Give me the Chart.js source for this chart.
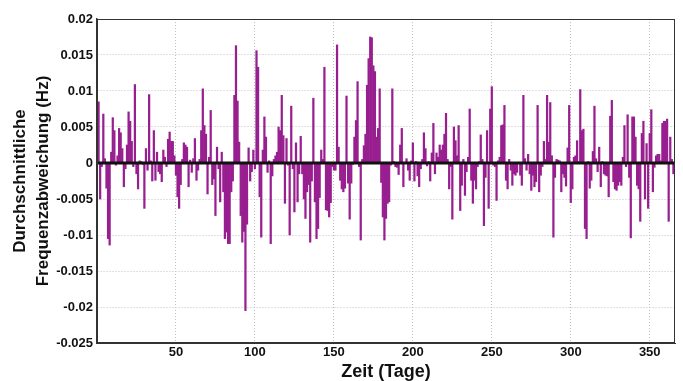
<!DOCTYPE html>
<html>
<head>
<meta charset="utf-8">
<script src="https://cdn.jsdelivr.net/npm/chart.js@4"></script>
<style>
  body { margin: 0; background: #fff; }
  #wrap { width: 683px; height: 381px; }
</style>
</head>
<body>
<div id="wrap"><canvas id="myChart" width="683" height="381"></canvas></div>
<script>
// days of the year (categories)
const days = Array.from({ length: 365 }, (_, i) => i + 1);

// mean frequency deviation per day in Hz
const deviation = [
  0.0085, -0.005, -0.0005, 0.0068, 0.0006, -0.0035, -0.0105, -0.0114, 0.0015, 0.0063,
  0.0045, -0.0003, 0.001, 0.0048, 0.0042, 0.002, -0.0033, -0.0008, 0.0025, 0.0071,
  0.0058, 0.003, -0.0005, 0.0109, -0.0015, -0.0036, 0.0003, 0.0002, -0.0002, -0.0063,
  0.002, -0.001, 0.0095, 0.0003, -0.0025, 0.0045, -0.0024, 0.0015, -0.0012, -0.0015,
  -0.0026, 0.0018, 0.0008, -0.0005, 0.0033, 0.0043, 0.003, 0.003, 0.001, -0.0017,
  -0.0047, -0.0063, -0.003, 0.0005, 0.0028, 0.0025, 0.0022, -0.0033, 0.0004, -0.0013,
  0.0006, 0.0034, -0.0024, -0.001, 0.0005, 0.0045, 0.0103, 0.0052, 0.004, -0.0043,
  0.0008, 0.0073, -0.003, -0.0022, -0.0073, 0.0022, -0.0008, -0.0054, 0.0015, -0.004,
  -0.0105, -0.0096, -0.0112, -0.0112, -0.004, -0.0025, 0.0094, 0.0163, 0.0086, 0.0029,
  -0.0073, -0.011, -0.0095, -0.0205, -0.0085, 0.0021, -0.0025, -0.0012, 0.0018, -0.0008,
  0.0156, 0.0133, -0.0047, -0.0103, 0.0018, 0.0064, 0.0036, -0.0013, 0.0003, -0.0112,
  -0.0018, 0.0005, 0.001, 0.0015, 0.005, 0.0045, 0.0094, 0.0038, -0.0056, 0.0034,
  -0.0003, -0.01, 0.0079, -0.0008, -0.0068, 0.0028, -0.0054, -0.0015, 0.0037, -0.0015,
  -0.005, -0.0077, -0.004, -0.003, -0.011, -0.0025, 0.009, -0.0054, -0.0105, -0.0091,
  -0.0048, 0.0018, 0.0005, 0.0133, -0.0065, -0.0066, -0.0075, -0.0055, -0.0005, -0.001,
  -0.001, 0.0164, 0.0022, -0.0024, -0.0036, -0.004, -0.0035, 0.0093, -0.0028, -0.0078,
  -0.0028, -0.0002, 0.0036, 0.0059, 0.0113, -0.0005, -0.0107, 0.0005, 0.0024, 0.004,
  0.0108, 0.0145, 0.0175, 0.0174, 0.0135, 0.0127, 0.0036, 0.0048, 0.0103, -0.0027,
  -0.0075, -0.0107, -0.0077, -0.0056, -0.0054, -0.0003, 0.0103, 0.0002, -0.0005, -0.0006,
  -0.0016, 0.0025, 0.0048, -0.0033, 0.0001, 0.0006, -0.001, -0.0024, 0.0003, 0.0028,
  -0.0025, 0.0002, -0.0018, -0.0033, -0.0008, 0.0005, 0.0042, 0.002, -0.0004, 0.0002,
  -0.0025, 0.0014, 0.0055, -0.0015, 0.0014, 0.0008, 0.0025, 0.0018, 0.0025, 0.004,
  0.0069, 0.0005, -0.0036, -0.0005, -0.0078, 0.005, 0.0031, 0.001, 0.0052, -0.0066,
  -0.0031, 0.0005, -0.0045, -0.0012, 0.0008, 0.0075, -0.0024, -0.0056, -0.0024, -0.0036,
  -0.0005, 0.0002, 0.0039, 0.0005, -0.0087, -0.002, 0.0045, -0.0063, 0.0075, 0.0106,
  -0.0003, -0.0005, -0.0052, 0.0003, 0.0008, 0.0052, 0.0053, 0.008, -0.0024, -0.0036,
  0.0005, -0.001, -0.0031, -0.0015, -0.0017, -0.0013, 0.0001, -0.0017, -0.0031, 0.0094,
  0.0006, -0.001, 0.0012, -0.0015, -0.0038, -0.0017, -0.0033, -0.0026, 0.008, -0.004,
  -0.0017, -0.0005, 0.003, 0.0005, 0.0094, 0.0029, 0.0084, 0.001, -0.0103, -0.002,
  0.0005, 0.0004, 0.0003, -0.004, -0.0015, -0.002, -0.0032, 0.0021, 0.008, -0.0055,
  -0.0036, 0.0008, 0.001, 0.0031, 0.0002, 0.0102, 0.0045, 0.0047, -0.0091, -0.0105,
  0.0002, -0.0035, -0.0024, 0.0016, 0.0079, 0.0006, -0.0012, 0.0022, -0.0033, 0.0002,
  -0.0015, -0.0017, -0.0018, -0.0047, 0.0065, 0.0087, -0.0026, -0.0036, -0.0038, -0.0031,
  -0.0026, -0.0031, 0.0008, 0.0052, -0.0005, 0.0067, -0.002, -0.0104, 0.0064, 0.0064,
  0.0036, -0.0031, -0.0036, -0.0081, 0.0041, 0.0058, -0.005, 0.0027, -0.0063, 0.0041,
  0.0074, -0.004, -0.0006, 0.001, 0.0012, 0.0012, 0.0003, 0.0055, 0.0058, 0.0058,
  0.0061, -0.0081, 0.0036, 0.0005, -0.0015
];

const xTicks = [50, 100, 150, 200, 250, 300, 350];
const yTicks = [0.02, 0.015, 0.01, 0.005, 0, -0.005, -0.01, -0.015, -0.02, -0.025];

const fontFam = '"Liberation Sans", Arial, sans-serif';

// zero baseline + box around the plot, drawn on top of the bars
const frame = {
  id: 'frame',
  afterDatasetsDraw(chart) {
    const { ctx, chartArea: a, scales: { y } } = chart;
    const y0 = y.getPixelForValue(0);
    ctx.save();
    ctx.strokeStyle = '#111';
    ctx.lineWidth = 3;
    ctx.beginPath();
    ctx.moveTo(a.left, y0);
    ctx.lineTo(a.right, y0);
    ctx.stroke();
    ctx.strokeStyle = '#333';
    ctx.lineWidth = 1;
    ctx.strokeRect(a.left + 0.5, a.top + 0.5, a.right - a.left - 1, a.bottom - a.top - 1);
    ctx.lineWidth = 2;
    ctx.beginPath();
    ctx.moveTo(a.left, a.top);
    ctx.lineTo(a.left, a.bottom);
    ctx.lineTo(a.right, a.bottom);
    ctx.stroke();
    ctx.restore();
  }
};

const ctx = document.getElementById('myChart');

new Chart(ctx, {
  type: 'bar',
  data: {
    datasets: [{
      label: 'Frequenzabweichung',
      data: days.map((d, i) => ({ x: d, y: deviation[i] })),
      backgroundColor: '#981f8f',
      borderWidth: 0,
      barPercentage: 1,
      categoryPercentage: 1
    }]
  },
  options: {
    responsive: false,
    animation: false,
    layout: { padding: { left: 0, right: 8, top: 19, bottom: 0 } },
    plugins: {
      legend: { display: false },
      tooltip: { enabled: false }
    },
    scales: {
      x: {
        type: 'linear',
        offset: false,
        min: 0,
        max: 366,
        afterBuildTicks: s => { s.ticks = xTicks.map(v => ({ value: v })); },
        afterFit: s => { s.height = 38; },
        ticks: {
          color: '#111',
          font: { family: fontFam, size: 13, weight: 'bold' },
          maxRotation: 0,
          padding: 2
        },
        grid: { color: '#c2c2c2', drawTicks: false, offset: false },
        border: { display: true, color: '#333', width: 1, dash: [1, 2] },
        title: {
          display: true,
          text: 'Zeit (Tage)',
          color: '#111',
          font: { family: fontFam, size: 18, weight: 'bold', lineHeight: 1.05 },
          padding: { top: 0, bottom: 0 }
        }
      },
      y: {
        min: -0.025,
        max: 0.02,
        afterBuildTicks: s => { s.ticks = yTicks.map(v => ({ value: v })); },
        afterFit: s => { s.width = 97; },
        ticks: {
          color: '#111',
          font: { family: fontFam, size: 13, weight: 'bold' },
          padding: 4,
          callback: v => String(+v.toFixed(3))
        },
        grid: { color: '#c2c2c2', drawTicks: false },
        border: { display: true, color: '#333', width: 1.5, dash: [1, 2] },
        title: {
          display: true,
          text: ['Durchschnittliche', 'Frequenzabweichung (Hz)'],
          color: '#111',
          font: { family: fontFam, size: 17, weight: 'bold', lineHeight: 1.35 },
          padding: { top: 8.5, bottom: 0 }
        }
      }
    }
  },
  plugins: [frame]
});
</script>
</body>
</html>
